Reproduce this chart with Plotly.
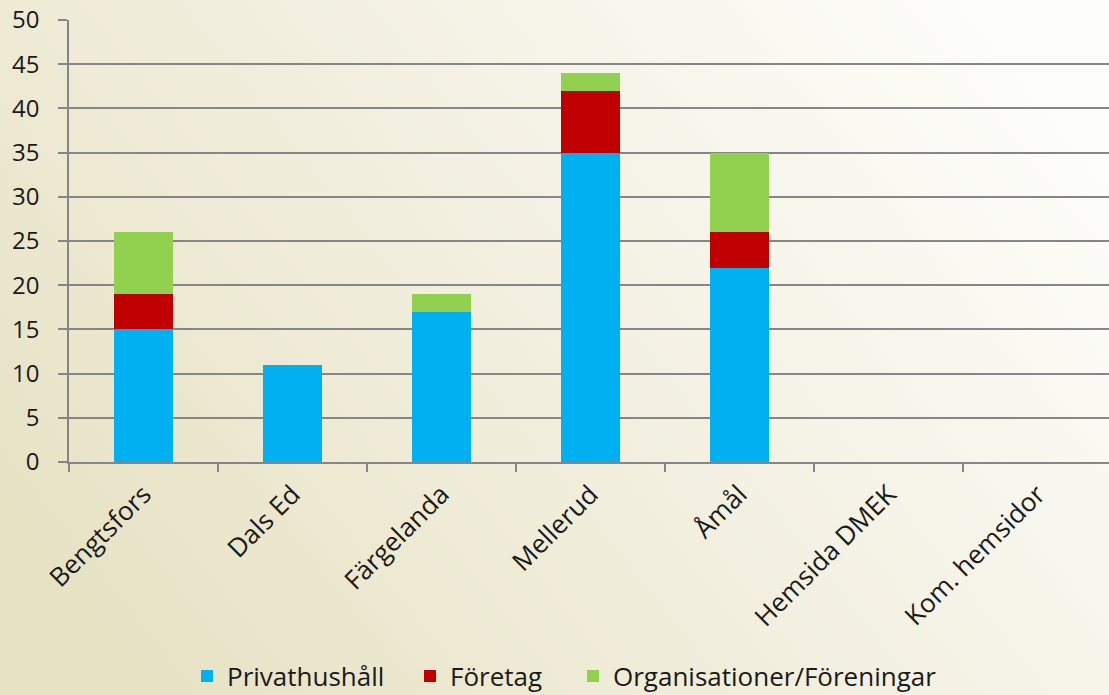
import plotly.graph_objects as go
import base64

categories = ["Bengtsfors", "Dals Ed", "Färgelanda", "Mellerud", "Åmål", "Hemsida DMEK", "Kom. hemsidor"]
privathushall = [15, 11, 17, 35, 22, 0, 0]
foretag = [4, 0, 0, 7, 4, 0, 0]
organisationer = [7, 0, 2, 2, 9, 0, 0]
series_names = ["Privathushåll", "Företag", "Organisationer/Föreningar"]
colors = ["#00B0F0", "#C00000", "#92D050"]
y_ticks = list(range(0, 51, 5))

W, H = 1109, 695
ML, MR, MT, MB = 69, 0, 20, 233
FONT = "Open Sans"
pw = W - ML - MR
ph = H - MT - MB

legend_ids = ["legend", "legend2", "legend3"]
legend_left_px = [187, 410, 573]

fig = go.Figure()
for name, vals, col, lid in zip(series_names, [privathushall, foretag, organisationer], colors, legend_ids):
    fig.add_trace(go.Bar(x=categories, y=vals, name=name, marker=dict(color=col, line=dict(width=0)),
                         width=0.4, legend=lid))

svg = f'''<svg xmlns="http://www.w3.org/2000/svg" width="{W}" height="{H}" preserveAspectRatio="none">
<defs><linearGradient id="g" x1="0" y1="0.75" x2="1" y2="0.25">
<stop offset="0" stop-color="#E7E2C4"/>
<stop offset="0.45" stop-color="#F1EEDD"/>
<stop offset="1" stop-color="#FDFDFA"/>
</linearGradient></defs>
<rect width="{W}" height="{H}" fill="url(#g)"/></svg>'''
src = "data:image/svg+xml;base64," + base64.b64encode(svg.encode()).decode()

fig.add_layout_image(dict(source=src, xref="paper", yref="paper",
                          x=-ML / pw, y=1 + MT / ph, sizex=W / pw, sizey=H / ph,
                          xanchor="left", yanchor="top", sizing="stretch", layer="below"))

legend_cfg = {}
for lid, lx in zip(legend_ids, legend_left_px):
    legend_cfg[lid] = dict(orientation="h", x=(lx - ML) / pw, xanchor="left",
                           y=-(676 - 462) / ph, yanchor="middle",
                           font=dict(size=26, family=FONT, color="#1a1a1a"),
                           bgcolor="rgba(0,0,0,0)", borderwidth=0, itemwidth=30)

fig.update_layout(
    width=W, height=H,
    margin=dict(l=ML, r=MR, t=MT, b=MB, pad=0, autoexpand=False),
    barmode="stack",
    paper_bgcolor="rgba(0,0,0,0)",
    plot_bgcolor="rgba(0,0,0,0)",
    font=dict(family=FONT, color="#1a1a1a", size=22),
    showlegend=True,
    xaxis=dict(range=[-0.5, 6.48], tickangle=-45, tickson="boundaries", ticks="outside",
               ticklen=8, tickwidth=1.5, tickcolor="#868686",
               showline=True, linecolor="#868686", linewidth=1.5,
               showgrid=False, tickfont=dict(size=26), ticklabelstandoff=5, fixedrange=True),
    yaxis=dict(range=[0, 50], tickvals=y_ticks, ticks="outside", ticklen=9, tickwidth=1.5,
               tickcolor="#868686", showline=True, linecolor="#868686", linewidth=1.5,
               showgrid=True, gridcolor="#868686", gridwidth=1.8, zeroline=False,
               tickfont=dict(size=24), ticklabelstandoff=14, fixedrange=True),
    **legend_cfg,
)

fig.write_html("out.html", config={"displayModeBar": False},
               post_script="document.body.style.margin='0';document.body.style.padding='0';")
